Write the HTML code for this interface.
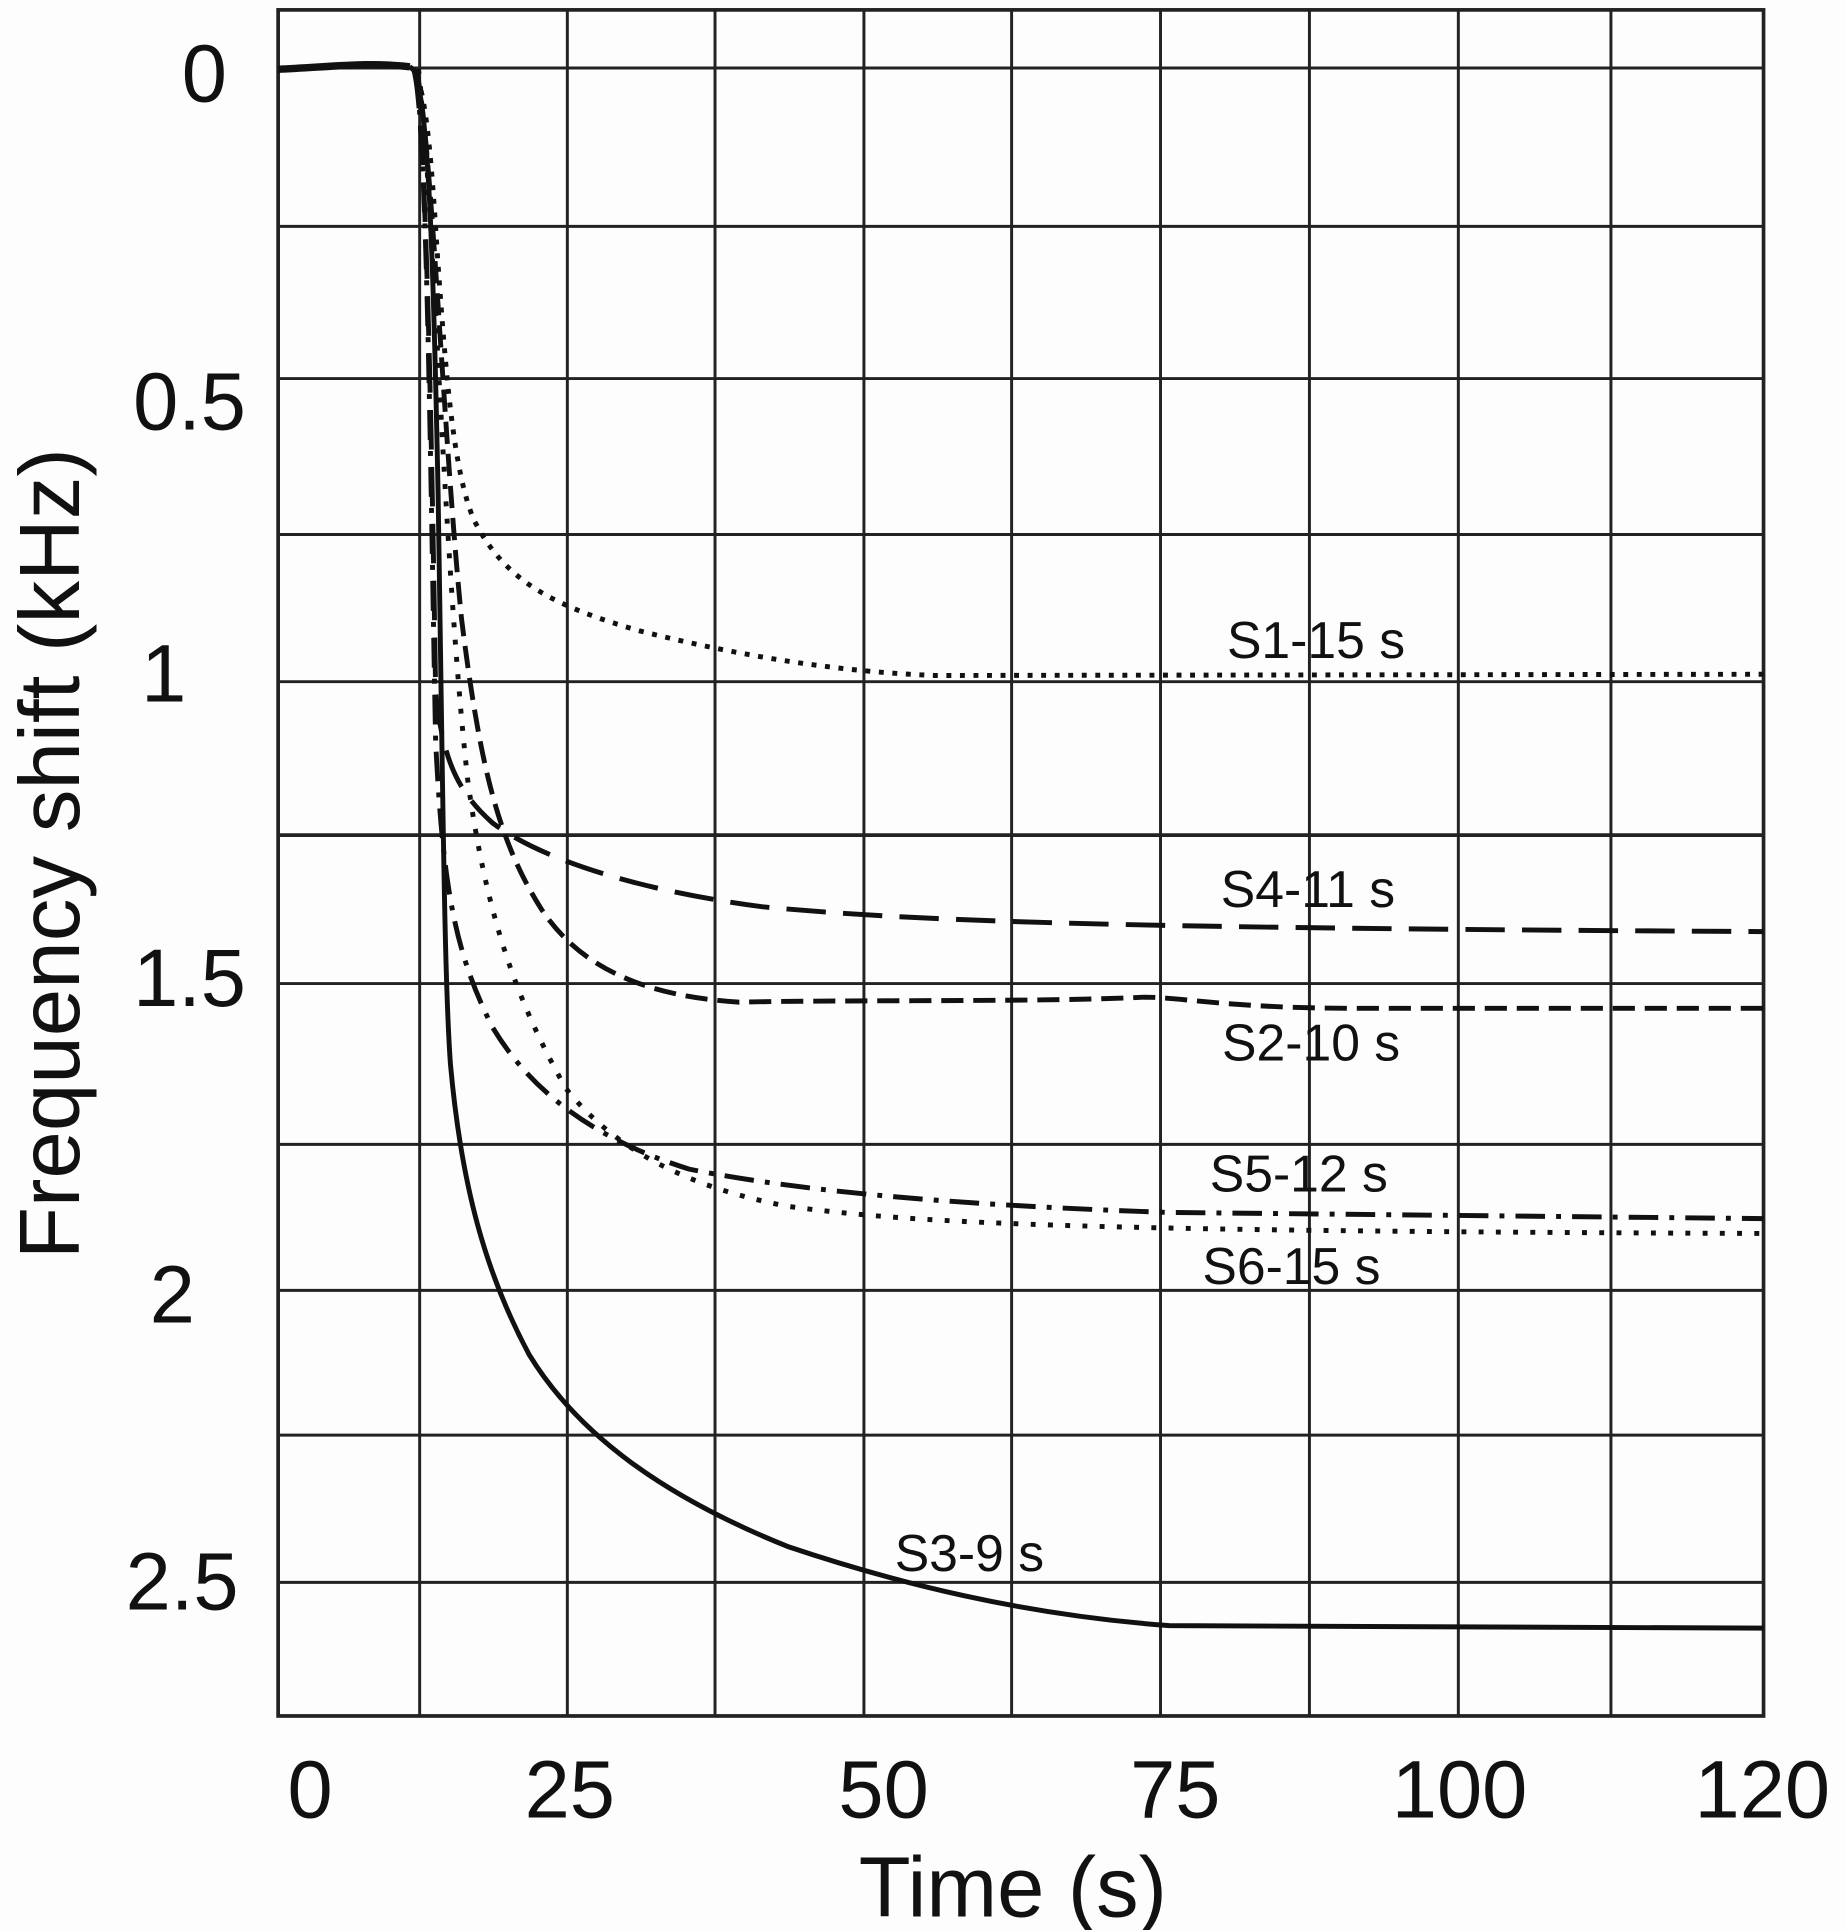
<!DOCTYPE html>
<html><head><meta charset="utf-8"><style>
html,body{margin:0;padding:0;background:#fdfdfd;}
svg{display:block;}
text{font-family:"Liberation Sans",sans-serif;fill:#111;}
</style></head><body>
<svg width="1846" height="1930" viewBox="0 0 1500 1560" preserveAspectRatio="none">
<rect width="1500" height="1560" fill="#fdfdfd"/>
<g stroke="#222" stroke-width="2.4" fill="none">
<line x1="341" y1="8" x2="341" y2="1387"/><line x1="461" y1="8" x2="461" y2="1387"/>
<line x1="581" y1="8" x2="581" y2="1387"/><line x1="702" y1="8" x2="702" y2="1387"/>
<line x1="822" y1="8" x2="822" y2="1387"/><line x1="943" y1="8" x2="943" y2="1387"/>
<line x1="1064" y1="8" x2="1064" y2="1387"/><line x1="1185" y1="8" x2="1185" y2="1387"/>
<line x1="1309" y1="8" x2="1309" y2="1387"/>
<line x1="226" y1="55" x2="1433" y2="55"/><line x1="226" y1="183" x2="1433" y2="183"/>
<line x1="226" y1="306" x2="1433" y2="306"/><line x1="226" y1="432" x2="1433" y2="432"/>
<line x1="226" y1="551" x2="1433" y2="551"/><line x1="226" y1="675" x2="1433" y2="675" stroke-width="3"/>
<line x1="226" y1="795" x2="1433" y2="795"/><line x1="226" y1="925" x2="1433" y2="925"/>
<line x1="226" y1="1043" x2="1433" y2="1043"/><line x1="226" y1="1160" x2="1433" y2="1160"/>
<line x1="226" y1="1279" x2="1433" y2="1279"/>
<rect x="226" y="8" width="1207" height="1379" stroke-width="3"/>
</g>
<g fill="none" stroke="#111" stroke-width="4">
<path d="M226,56 C270,54 300,50 333,54" stroke-width="6"/>
<path d="M333,54 C345,60 350,120 355,200 C362,300 368,380 385,420 C410,470 450,490 520,510 C600,530 680,543 760,546 L1433,545" stroke-dasharray="4,7"/>
<path d="M336,56 C345,80 350,300 354,560 C360,615 372,640 400,665 C440,695 520,720 620,733 C750,745 900,750 1433,753" stroke-dasharray="32,14"/>
<path d="M338,56 C350,100 360,350 375,500 C390,620 405,680 440,735 C470,780 520,805 600,810 C700,808 850,810 930,806 C960,806 1000,815 1100,815 L1433,815" stroke-dasharray="18,8"/>
<path d="M337,56 C347,100 350,400 354,600 C360,720 370,770 400,830 C430,880 480,920 560,945 C660,965 800,975 950,980 L1433,985" stroke-dasharray="24,9,4,9"/>
<path d="M340,56 C352,150 360,450 380,630 C395,740 420,810 460,880 C500,930 560,960 640,975 C750,990 900,995 1433,997" stroke-dasharray="4,10"/>
<path d="M336,56 C348,80 352,200 356,400 C360,650 361,790 366,860 C375,960 395,1030 430,1095 C470,1160 540,1210 640,1250 C730,1280 830,1305 950,1314 L1433,1316"/>
</g>
<g font-size="42">
<text x="997" y="532">S1-15 s</text>
<text x="992" y="733">S4-11 s</text>
<text x="993" y="857">S2-10 s</text>
<text x="983" y="963">S5-12 s</text>
<text x="977" y="1038">S6-15 s</text>
<text x="727" y="1270">S3-9 s</text>
</g>
<g font-size="66" text-anchor="middle">
<text x="166" y="82">0</text>
<text x="154" y="347">0.5</text>
<text x="133" y="567">1</text>
<text x="154" y="813">1.5</text>
<text x="140" y="1069">2</text>
<text x="148" y="1301">2.5</text>
<text x="252" y="1469">0</text>
<text x="463" y="1469">25</text>
<text x="718" y="1469">50</text>
<text x="955" y="1469">75</text>
<text x="1186" y="1469">100</text>
<text x="1432" y="1469">120</text>
<text x="823" y="1549" font-size="69">Time (s)</text>
<text transform="translate(64,690) rotate(-90)" font-size="69">Frequency shift (kHz)</text>
</g>
</svg>
</body></html>
